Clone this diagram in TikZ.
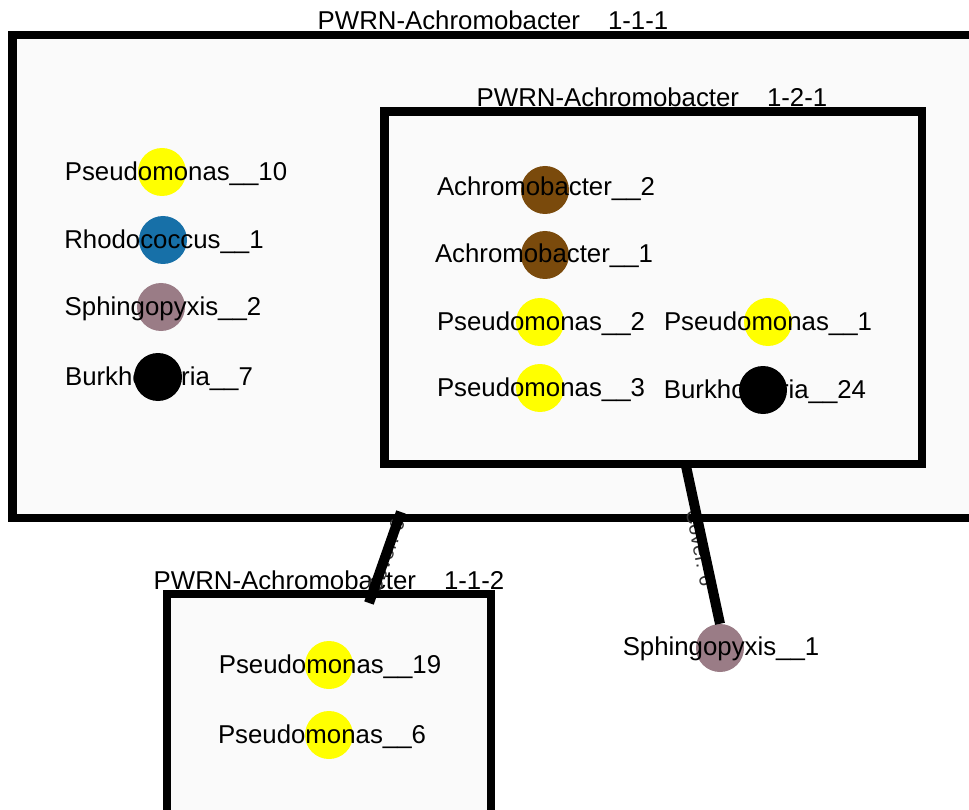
\documentclass[tikz,border=0pt]{standalone}
\usepackage{fontspec}
\setmainfont{Liberation Sans}
\begin{document}
\begin{tikzpicture}[x=1pt,y=-1pt,
  groupbox/.style={draw=black,line width=8.5pt,fill=groupfill},
  grouptitle/.style={font=\fontsize{25.8}{30}\selectfont,text=black,inner sep=0pt,anchor=base},
  taxon/.style={circle,minimum size=48pt,inner sep=0pt},
  taxlabel/.style={font=\fontsize{25.8}{30}\selectfont,text=black,inner sep=0pt},
  link/.style={draw=black,line width=10pt},
  linklabel/.style={font=\fontsize{20}{24}\selectfont,text=black!80,inner sep=0pt}
]
\definecolor{groupfill}{HTML}{FAFAFA}
\definecolor{pseudo}{HTML}{FFFF00}
\definecolor{rhodo}{HTML}{1770A8}
\definecolor{sphingo}{HTML}{9A7C86}
\definecolor{achro}{HTML}{7A4A0C}
\useasboundingbox (0,0) rectangle (969,810);

% group boxes
\path[groupbox] (12.5,35) rectangle (990,518);
\node[grouptitle] (t111) at (493,30) {PWRN-Achromobacter\hspace{28pt}1-1-1};
\path[groupbox] (384.5,111.5) rectangle (922,464);
\node[grouptitle] (t121) at (652,107) {PWRN-Achromobacter\hspace{28pt}1-2-1};
\path[groupbox] (167,594) rectangle (491,830);
\node[grouptitle] (t112) at (329,589) {PWRN-Achromobacter\hspace{28pt}1-1-2};

% anchors of the connectors on the box borders
\coordinate (b111) at (401,512);
\coordinate (b112) at (369,603);
\coordinate (b121) at (686,466);

% taxa
\node[taxon,fill=pseudo] (ps10) at (162,172) {};
\node[taxlabel] at (176,174) {Pseudomonas\_\_10};
\node[taxon,fill=rhodo] (rh1) at (163,240) {};
\node[taxlabel] at (164,242) {Rhodococcus\_\_1};
\node[taxon,fill=sphingo] (sp2) at (161,307) {};
\node[taxlabel] at (163,309) {Sphingopyxis\_\_2};
\node[taxon,fill=black] (bu7) at (158,377) {};
\node[taxlabel] at (159,379) {Burkholderia\_\_7};

\node[taxon,fill=achro] (ac2) at (545,190) {};
\node[taxlabel] at (546,189) {Achromobacter\_\_2};
\node[taxon,fill=achro] (ac1) at (545,255) {};
\node[taxlabel] at (544,256) {Achromobacter\_\_1};
\node[taxon,fill=pseudo] (ps2) at (540,322) {};
\node[taxlabel] at (541,324) {Pseudomonas\_\_2};
\node[taxon,fill=pseudo] (ps1) at (768,322) {};
\node[taxlabel] at (768,324) {Pseudomonas\_\_1};
\node[taxon,fill=pseudo] (ps3) at (540,388) {};
\node[taxlabel] at (541,390) {Pseudomonas\_\_3};
\node[taxon,fill=black] (bu24) at (763,390) {};
\node[taxlabel] at (765,392) {Burkholderia\_\_24};

\node[taxon,fill=pseudo] (ps19) at (329,665) {};
\node[taxlabel] at (330,667) {Pseudomonas\_\_19};
\node[taxon,fill=pseudo] (ps6) at (329,735) {};
\node[taxlabel] at (322,737) {Pseudomonas\_\_6};

\node[taxon,fill=sphingo] (sp1) at (720,648) {};
\node[taxlabel] (sp1l) at (721,649) {Sphingopyxis\_\_1};

% connector labels, partly hidden by the connectors
\node[linklabel,rotate=70.6] (l1) at (386,556) {Cover: 6};
\node[linklabel,rotate=-78.8] (l2) at (700,548) {Cover: 6};

% connectors
\draw[link] (b111) -- (b112);
\draw[link] (b121) -- (sp1.north);
\end{tikzpicture}
\end{document}
